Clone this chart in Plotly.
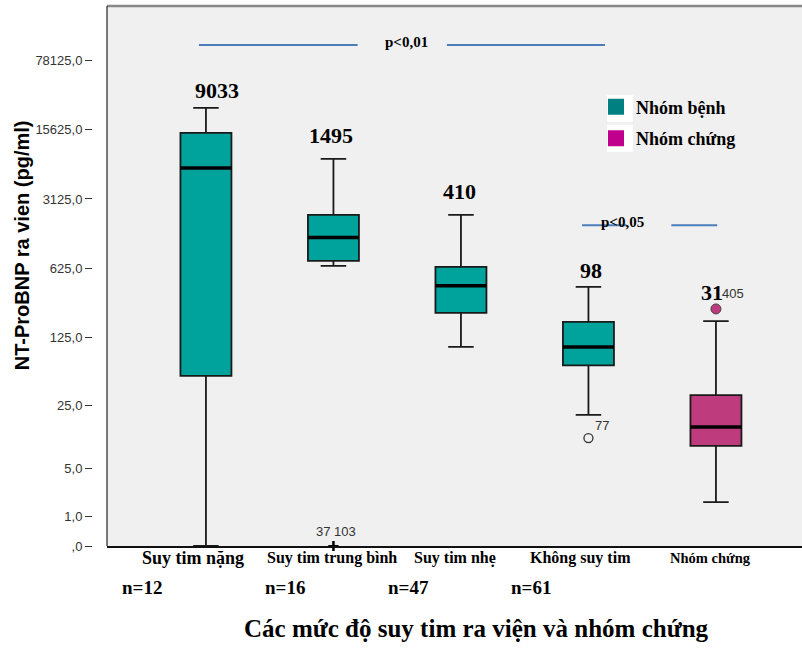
import plotly.graph_objects as go

# ---------------- data ----------------
categories = ["Suy tim nặng", "Suy tim trung bình", "Suy tim nhẹ", "Không suy tim", "Nhóm chứng"]
groups = ["Nhóm bệnh", "Nhóm bệnh", "Nhóm bệnh", "Nhóm bệnh", "Nhóm chứng"]
n_labels = ["n=12", "n=16", "n=47", "n=61", ""]
lower_whisker = [0, 661, 100, 19.9, 1.77]
q1 = [50.6, 742, 222, 65, 9.2]
median = [6420, 1276, 417, 100, 14.8]
q3 = [14440, 2155, 645, 180, 32]
upper_whisker = [25770, 7900, 2155, 406, 183]
value_labels = ["9033", "1495", "410", "98", "31"]

extreme_cat = [1, 1]
extreme_val = [0, 0]
extreme_label = "37 103"
outlier_cat = [3, 4]
outlier_val = [11.2, 243]
outlier_labels = ["77", "405"]

y_ticks = [0, 1, 5, 25, 125, 625, 3125, 15625, 78125]
y_tick_labels = [",0", "1,0", "5,0", "25,0", "125,0", "625,0", "3125,0", "15625,0", "78125,0"]

colors_box = {"Nhóm bệnh": "#00A29C", "Nhóm chứng": "#BE3C7D"}
colors_legend = {"Nhóm bệnh": "#008080", "Nhóm chứng": "#C0008C"}


def sl(v):
    # SPSS "safe log" scale: plotted on a log axis as value + 1
    return v + 1


SERIF = "Liberation Serif, Times New Roman, serif"
SANS = "Liberation Sans, Arial, sans-serif"

fig = go.Figure()

for i, cat in enumerate(categories):
    g = groups[i]
    fig.add_trace(go.Box(
        x=[i], q1=[sl(q1[i])], median=[sl(median[i])], q3=[sl(q3[i])],
        lowerfence=[sl(lower_whisker[i])], upperfence=[sl(upper_whisker[i])],
        fillcolor=colors_box[g], line=dict(color="#1a1a1a", width=1.8),
        width=0.4, whiskerwidth=0.5, boxpoints=False, showlegend=False,
        hoverinfo="skip", name=cat,
    ))
    fig.add_trace(go.Scatter(
        x=[i - 0.2, i + 0.2], y=[sl(median[i])] * 2, mode="lines",
        line=dict(color="black", width=3.5), showlegend=False, hoverinfo="skip",
    ))

# extreme values
fig.add_trace(go.Scatter(
    x=extreme_cat, y=[sl(v) for v in extreme_val], mode="markers",
    marker=dict(symbol="cross-thin", size=7, line=dict(color="black", width=2)),
    showlegend=False, cliponaxis=False, hoverinfo="skip",
))
# outliers
fig.add_trace(go.Scatter(
    x=[outlier_cat[0]], y=[sl(outlier_val[0])], mode="markers",
    marker=dict(symbol="circle-open", size=9, color="#333", line=dict(width=1.3)),
    showlegend=False, hoverinfo="skip",
))
fig.add_trace(go.Scatter(
    x=[outlier_cat[1]], y=[sl(outlier_val[1])], mode="markers",
    marker=dict(symbol="circle", size=10, color=colors_box["Nhóm chứng"],
                line=dict(color="#444", width=1)),
    showlegend=False, hoverinfo="skip",
))

# legend entries
for g in ["Nhóm bệnh", "Nhóm chứng"]:
    fig.add_trace(go.Scatter(
        x=[None], y=[None], mode="markers", name=f"<b>{g}</b>", legendgroup=g,
        marker=dict(symbol="square", size=17, color=colors_legend[g]),
    ))

annotations = []


def ann(x, y, text, font, xref="x", yref="paper", **kw):
    d = dict(x=x, y=y, xref=xref, yref=yref, text=text, showarrow=False,
             xanchor="center", yanchor="middle", font=font)
    d.update(kw)
    annotations.append(d)


# value labels over boxes
val_pos = [(0.09, 0.844), (0.98, 0.761), (1.99, 0.656), (3.02, 0.511), (3.97, 0.469)]
for lab, (xx, yy) in zip(value_labels, val_pos):
    ann(xx, yy, f"<b>{lab}</b>", dict(family=SERIF, size=22, color="black"))
# case labels
for lab, (xx, yy) in zip(outlier_labels, [(3.11, 0.224), (4.13, 0.467)]):
    ann(xx, yy, lab, dict(family=SANS, size=13, color="#333"))
ann(1.02, 0.026, extreme_label, dict(family=SANS, size=13, color="#333"))

# category labels
cat_sizes = [18, 16, 16, 16, 14.5]
cat_x = [-0.10, -0.01, -0.05, -0.06, -0.04]
for i, (c, s, dx) in enumerate(zip(categories, cat_sizes, cat_x)):
    ann(i + dx, -0.022, f"<b>{c}</b>", dict(family=SERIF, size=s, color="black"))
n_x = [-0.5, -0.38, -0.41, -0.45]
for i, (nl, dx) in enumerate(zip(n_labels, n_x)):
    if nl:
        ann(i + dx, -0.076, f"<b>{nl}</b>", dict(family=SERIF, size=19, color="black"))
# x title
ann(2.12, -0.152, "<b>Các mức độ suy tim ra viện và nhóm chứng</b>",
    dict(family=SERIF, size=25, color="black"))
# y title
ann(22 / 802, 0.557, "<b>NT-ProBNP ra vien (pg/ml)</b>",
    dict(family=SANS, size=20, color="black"), xref="paper", textangle=-90)
# p-values
ann(1.57, 0.933, "<b>p<0,01</b>", dict(family=SERIF, size=15, color="black"))
ann(3.27, 0.600, "<b>p<0,05</b>", dict(family=SERIF, size=15, color="black"))

shapes = []
for (x0, x1, yy) in [(-0.055, 1.19, 0.928), (1.89, 3.13, 0.928), (2.95, 3.30, 0.594), (3.65, 4.01, 0.594)]:
    shapes.append(dict(type="line", xref="x", yref="paper", x0=x0, x1=x1, y0=yy, y1=yy,
                       line=dict(color="#4A7EBB", width=2)))
# plot frame
shapes.append(dict(type="line", xref="x domain", yref="paper", x0=0, x1=1, y0=1, y1=1,
                   line=dict(color="#888888", width=2.5)))
shapes.append(dict(type="line", xref="x domain", yref="paper", x0=0, x1=0, y0=0, y1=1,
                   line=dict(color="#222222", width=1.2)))
# white backing behind legend swatches
for y0, y1 in [(0.785, 0.835), (0.730, 0.780)]:
    shapes.append(dict(type="rect", xref="paper", yref="paper", x0=607 / 802, x1=633 / 802,
                       y0=y0, y1=y1, fillcolor="white", line=dict(width=0), layer="above"))

fig.update_layout(
    width=802, height=648,
    margin=dict(l=0, r=0, t=6, b=102),
    paper_bgcolor="white", plot_bgcolor="#F0F0F0",
    showlegend=True,
    legend=dict(x=596 / 802, y=0.847, xanchor="left", yanchor="top",
                bgcolor="rgba(0,0,0,0)", font=dict(family=SERIF, size=18, color="black"),
                itemwidth=30, tracegroupgap=5, traceorder="grouped"),
    xaxis=dict(domain=[107 / 802, 1], range=[-0.776, 4.675], showticklabels=False,
               ticks="", showgrid=False, zeroline=False, showline=True,
               linecolor="#111", linewidth=1.5),
    yaxis=dict(type="log", range=[0, 5.438], anchor="free", position=92 / 802,
               tickvals=[sl(v) for v in y_ticks], ticktext=y_tick_labels,
               ticks="outside", ticklen=7, tickcolor="#333", tickwidth=1,
               showline=False, showgrid=False, zeroline=False,
               tickfont=dict(family=SANS, size=13, color="#333")),
    annotations=annotations, shapes=shapes,
)

fig.write_html("out.html")
